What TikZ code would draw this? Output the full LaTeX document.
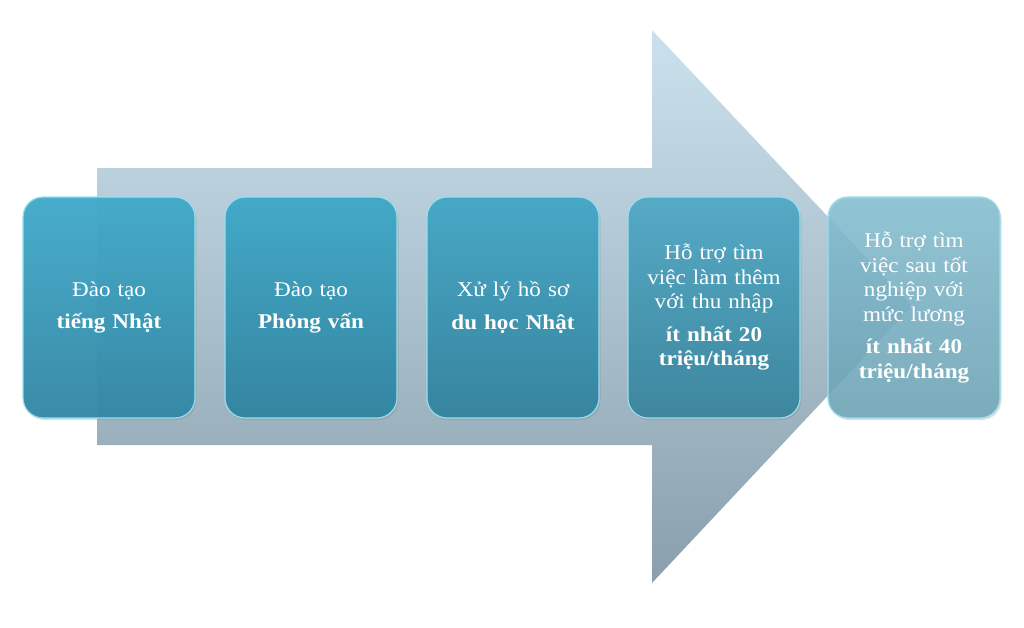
\documentclass[tikz,border=0pt]{standalone}
\usepackage{fontspec}
\setmainfont{Liberation Serif}[FakeStretch=1.1]
\usetikzlibrary{shadows}
\definecolor{arrowtop}{HTML}{CBE2EE}
\definecolor{arrowbot}{HTML}{8A9FAC}
\definecolor{boxAtop}{HTML}{40ABCB}
\definecolor{boxAbot}{HTML}{3287A4}
\definecolor{boxBtop}{HTML}{43A9C8}
\definecolor{boxBbot}{HTML}{3485A0}
\definecolor{boxCtop}{HTML}{47A8C6}
\definecolor{boxCbot}{HTML}{37849E}
\definecolor{boxDtop}{HTML}{55AAC6}
\definecolor{boxDbot}{HTML}{3E869E}
\definecolor{boxEtop}{HTML}{84C0D3}
\definecolor{boxEbot}{HTML}{6AA3B6}
\definecolor{rim}{HTML}{9ADDEE}
\tikzset{
  stepbox/.style={rounded corners=20pt, minimum width=172pt, minimum height=221pt,
    inner sep=4pt, text width=164pt, align=center, text=white,
    font=\fontsize{21}{24.5}\selectfont,
    draw=rim, line width=1.2pt,
    drop shadow={shadow xshift=1.5pt, shadow yshift=-2pt, opacity=0.25}},
}
\begin{document}
\begin{tikzpicture}[x=1pt,y=-1pt]
\useasboundingbox (0,0) rectangle (1024,627);
% big arrow
\path[top color=arrowtop, bottom color=arrowbot]
  (97,168) -- (652,168) -- (652,30) -- (912,306) -- (652,583) -- (652,445) -- (97,445) -- cycle;
% boxes
\node[stepbox, top color=boxAtop, bottom color=boxAbot, fill opacity=0.95, text opacity=1] (b1) at (109,307.5)
  {Đào tạo\\[8pt]\textbf{tiếng Nhật}};
\node[stepbox, top color=boxBtop, bottom color=boxBbot] (b2) at (311,307.5)
  {Đào tạo\\[8pt]\textbf{Phỏng vấn}};
\node[stepbox, top color=boxCtop, bottom color=boxCbot] (b3) at (513,307.5)
  {Xử lý hồ sơ\\[8pt]\textbf{du học Nhật}};
\node[stepbox, top color=boxDtop, bottom color=boxDbot] (b4) at (714,307.5)
  {Hỗ trợ tìm\\việc làm thêm\\với thu nhập\\[8pt]\textbf{ít nhất 20}\\\textbf{triệu/tháng}};
\node[stepbox, top color=boxEtop, bottom color=boxEbot, fill opacity=0.85, text opacity=1] (b5) at (914,307.5)
  {Hỗ trợ tìm\\việc sau tốt\\nghiệp với\\mức lương\\[8pt]\textbf{ít nhất 40}\\\textbf{triệu/tháng}};
\end{tikzpicture}
\end{document}
